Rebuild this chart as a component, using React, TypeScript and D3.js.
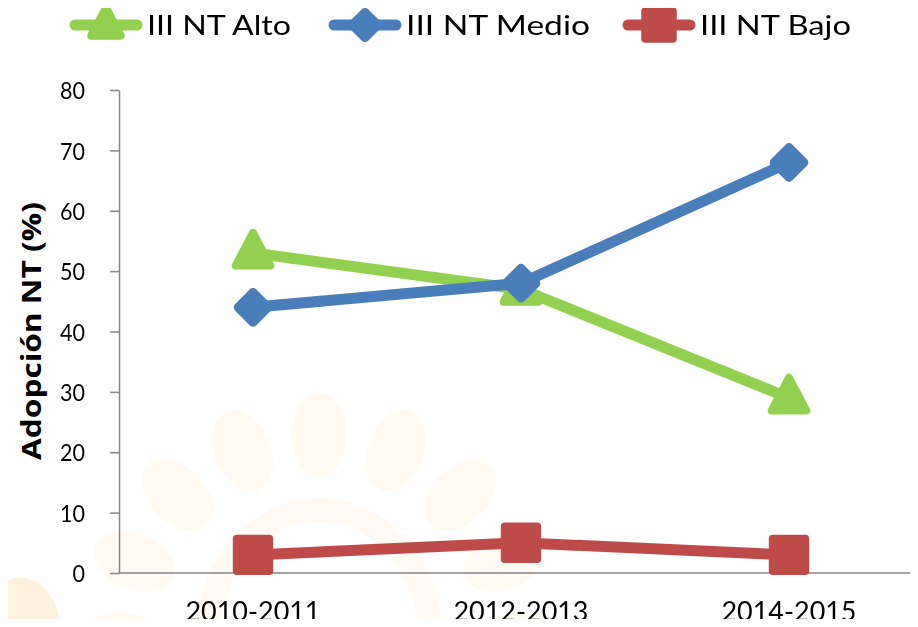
import { useEffect, useRef } from 'react';
import * as d3 from 'd3';

const periods = ['2010-2011', '2012-2013', '2014-2015'];
const alto = [53, 47, 29];
const medio = [44, 48, 68];
const bajo = [3, 5, 3];
const yTicks = [0, 10, 20, 30, 40, 50, 60, 70, 80];

const seriesNames = ['III NT Alto', 'III NT Medio', 'III NT Bajo'];
const seriesColors = ['#92D050', '#4A7EBB', '#BE4B48'];

const font = "Lato, 'Liberation Sans', sans-serif";

const App = () => {
  const svgRef = useRef<SVGSVGElement>(null);
  const width = 918;
  const height = 627;

  useEffect(() => {
    if (!svgRef.current) return;
    const svg = d3.select(svgRef.current);
    svg.selectAll('*').remove();

    // faint watermark behind the plot
    const wm = svg.append('g').attr('transform', 'translate(319,640)').attr('opacity', 0.3);
    wm.append('ellipse').attr('rx', 112).attr('ry', 130)
      .attr('fill', 'none').attr('stroke', '#FDEFD6').attr('stroke-width', 24);
    d3.range(-90, 91, 22.5).forEach(a => {
      const r = (a * Math.PI) / 180;
      const px = Math.sin(r) * 200;
      const py = -Math.cos(r) * 205;
      wm.append('ellipse')
        .attr('cx', px).attr('cy', py)
        .attr('rx', 28).attr('ry', 42)
        .attr('transform', `rotate(${a},${px},${py})`)
        .attr('fill', '#FDF0D8');
    });
    svg.append('ellipse').attr('cx', 20).attr('cy', 628).attr('rx', 40).attr('ry', 50)
      .attr('fill', '#FCE3B8').attr('opacity', 0.45);

    const x = d3.scalePoint<string>().domain(periods).range([253, 789]);
    const y = d3.scaleLinear().domain([0, 80]).range([573, 90]);

    // axes
    const yAxis = svg.append('g').attr('transform', 'translate(119,0)')
      .call(d3.axisLeft(y).tickValues(yTicks).tickSize(9).tickSizeOuter(0));
    yAxis.select('.domain').attr('stroke', '#868686').attr('stroke-width', 1.5);
    yAxis.selectAll('.tick line').attr('stroke', '#868686').attr('stroke-width', 1.5);
    yAxis.selectAll<SVGTextElement, number>('.tick text')
      .attr('x', -34).attr('dy', '0.36em').attr('font-family', font).attr('font-size', 24).attr('fill', '#000')
      .attr('textLength', d => String(d).length * 12.5).attr('lengthAdjust', 'spacingAndGlyphs');

    svg.append('line').attr('x1', 119).attr('x2', 918).attr('y1', y(0)).attr('y2', y(0))
      .attr('stroke', '#868686').attr('stroke-width', 1.5);

    svg.selectAll('.xlab').data(periods).enter().append('text')
      .attr('class', 'xlab')
      .attr('x', d => (x(d) || 0) - 67.5).attr('y', 621)
      .attr('font-family', font).attr('font-size', 27)
      .attr('textLength', 135).attr('lengthAdjust', 'spacingAndGlyphs')
      .text(d => d);

    svg.append('text')
      .attr('transform', 'translate(41,460) rotate(-90)')
      .attr('font-family', "'Open Sans', 'DejaVu Sans', sans-serif")
      .attr('font-weight', 'bold').attr('font-size', 26)
      .attr('textLength', 258).attr('lengthAdjust', 'spacingAndGlyphs')
      .text('Adopción NT (%)');

    const line = d3.line<number>().x((_, i) => x(periods[i]) || 0).y(d => y(d));
    const all = [alto, medio, bajo];

    const drawMarker = (g: d3.Selection<SVGGElement, unknown, null, undefined>, k: number, cx: number, cy: number, s: number) => {
      const c = seriesColors[k];
      if (k === 0) {
        g.append('path')
          .attr('d', `M${cx},${cy - s * 0.72} L${cx + s * 0.62},${cy + s * 0.45} L${cx - s * 0.62},${cy + s * 0.45} Z`)
          .attr('fill', c).attr('stroke', c).attr('stroke-width', 8).attr('stroke-linejoin', 'round');
      } else if (k === 1) {
        g.append('path')
          .attr('d', `M${cx},${cy - s * 0.55} L${cx + s * 0.55},${cy} L${cx},${cy + s * 0.55} L${cx - s * 0.55},${cy} Z`)
          .attr('fill', c).attr('stroke', c).attr('stroke-width', 9).attr('stroke-linejoin', 'round');
      } else {
        g.append('rect')
          .attr('x', cx - s * 0.45).attr('y', cy - s * 0.45).attr('width', s * 0.9).attr('height', s * 0.9)
          .attr('fill', c).attr('stroke', c).attr('stroke-width', 8).attr('stroke-linejoin', 'round');
      }
    };
    const markerSize = [28, 27, 36];

    all.forEach((vals, k) => {
      const g = svg.append('g');
      g.append('path').datum(vals).attr('d', line)
        .attr('fill', 'none').attr('stroke', seriesColors[k]).attr('stroke-width', 11)
        .attr('stroke-linejoin', 'round');
      vals.forEach((v, i) => drawMarker(g, k, x(periods[i]) || 0, y(v), markerSize[k]));
    });

    // legend
    const legendX = [75, 334, 628];
    const legendW = [144, 184, 151];
    seriesNames.forEach((name, k) => {
      const g = svg.append('g');
      g.append('line').attr('x1', legendX[k]).attr('x2', legendX[k] + 62).attr('y1', 25).attr('y2', 25)
        .attr('stroke', seriesColors[k]).attr('stroke-width', 11).attr('stroke-linecap', 'round');
      drawMarker(g, k, legendX[k] + 31, 25, markerSize[k] * 0.85);
      g.append('text').attr('x', legendX[k] + 72).attr('y', 35)
        .attr('font-family', font).attr('font-size', 27)
        .attr('textLength', legendW[k]).attr('lengthAdjust', 'spacingAndGlyphs')
        .text(name);
    });
  }, []);

  return <svg ref={svgRef} width={width} height={height} style={{ display: 'block', margin: -8 }} />;
};

export default App;
